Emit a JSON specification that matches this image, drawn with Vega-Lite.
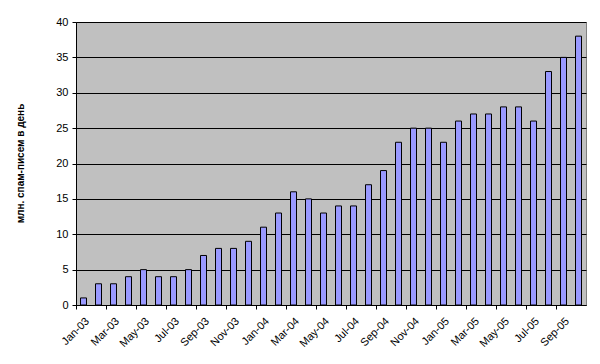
{
  "$schema": "https://vega.github.io/schema/vega-lite/v6.json",
  "width": 510,
  "height": 283,
  "autosize": "none",
  "padding": {"left": 76, "top": 22, "right": 14, "bottom": 59},
  "background": "white",
  "data": {
    "values": [
      {"month": "Jan-03", "value": 1},
      {"month": "Feb-03", "value": 3},
      {"month": "Mar-03", "value": 3},
      {"month": "Apr-03", "value": 4},
      {"month": "May-03", "value": 5},
      {"month": "Jun-03", "value": 4},
      {"month": "Jul-03", "value": 4},
      {"month": "Aug-03", "value": 5},
      {"month": "Sep-03", "value": 7},
      {"month": "Oct-03", "value": 8},
      {"month": "Nov-03", "value": 8},
      {"month": "Dec-03", "value": 9},
      {"month": "Jan-04", "value": 11},
      {"month": "Feb-04", "value": 13},
      {"month": "Mar-04", "value": 16},
      {"month": "Apr-04", "value": 15},
      {"month": "May-04", "value": 13},
      {"month": "Jun-04", "value": 14},
      {"month": "Jul-04", "value": 14},
      {"month": "Aug-04", "value": 17},
      {"month": "Sep-04", "value": 19},
      {"month": "Oct-04", "value": 23},
      {"month": "Nov-04", "value": 25},
      {"month": "Dec-04", "value": 25},
      {"month": "Jan-05", "value": 23},
      {"month": "Feb-05", "value": 26},
      {"month": "Mar-05", "value": 27},
      {"month": "Apr-05", "value": 27},
      {"month": "May-05", "value": 28},
      {"month": "Jun-05", "value": 28},
      {"month": "Jul-05", "value": 26},
      {"month": "Aug-05", "value": 33},
      {"month": "Sep-05", "value": 35},
      {"month": "Oct-05", "value": 38}
    ]
  },
  "mark": {"type": "bar", "fill": "#9999FF", "stroke": "#000000", "strokeWidth": 1, "width": {"band": 0.4}},
  "encoding": {
    "x": {
      "field": "month",
      "type": "ordinal",
      "sort": null,
      "scale": {"paddingInner": 0, "paddingOuter": 0},
      "axis": {
        "title": null,
        "values": ["Jan-03","Mar-03","May-03","Jul-03","Sep-03","Nov-03","Jan-04","Mar-04","May-04","Jul-04","Sep-04","Nov-04","Jan-05","Mar-05","May-05","Jul-05","Sep-05"],
        "bandPosition": 0,
        "labelAngle": -45,
        "labelAlign": "right",
        "labelBaseline": "top",
        "labelFont": "Liberation Sans",
        "labelFontSize": 11,
        "labelColor": "#000000",
        "labelPadding": 6,
        "labelOverlap": false,
        "domainColor": "#000000",
        "tickColor": "#000000",
        "tickSize": 4,
        "grid": false
      }
    },
    "y": {
      "field": "value",
      "type": "quantitative",
      "scale": {"domain": [0, 40], "nice": false},
      "axis": {
        "title": "млн. спам-писем в день",
        "titleFont": "Liberation Sans",
        "titleFontSize": 10,
        "titleFontWeight": "bold",
        "titleColor": "#000000",
        "titleX": -51,
        "titleY": 141,
        "values": [0, 5, 10, 15, 20, 25, 30, 35, 40],
        "labelFont": "Liberation Sans",
        "labelFontSize": 11,
        "labelColor": "#000000",
        "labelPadding": 4,
        "domainColor": "#000000",
        "tickColor": "#000000",
        "tickSize": 4,
        "grid": true,
        "gridColor": "#000000",
        "gridWidth": 1,
        "gridOpacity": 1
      }
    }
  },
  "config": {
    "view": {"fill": "#C0C0C0", "stroke": "#808080", "strokeWidth": 1}
  }
}
